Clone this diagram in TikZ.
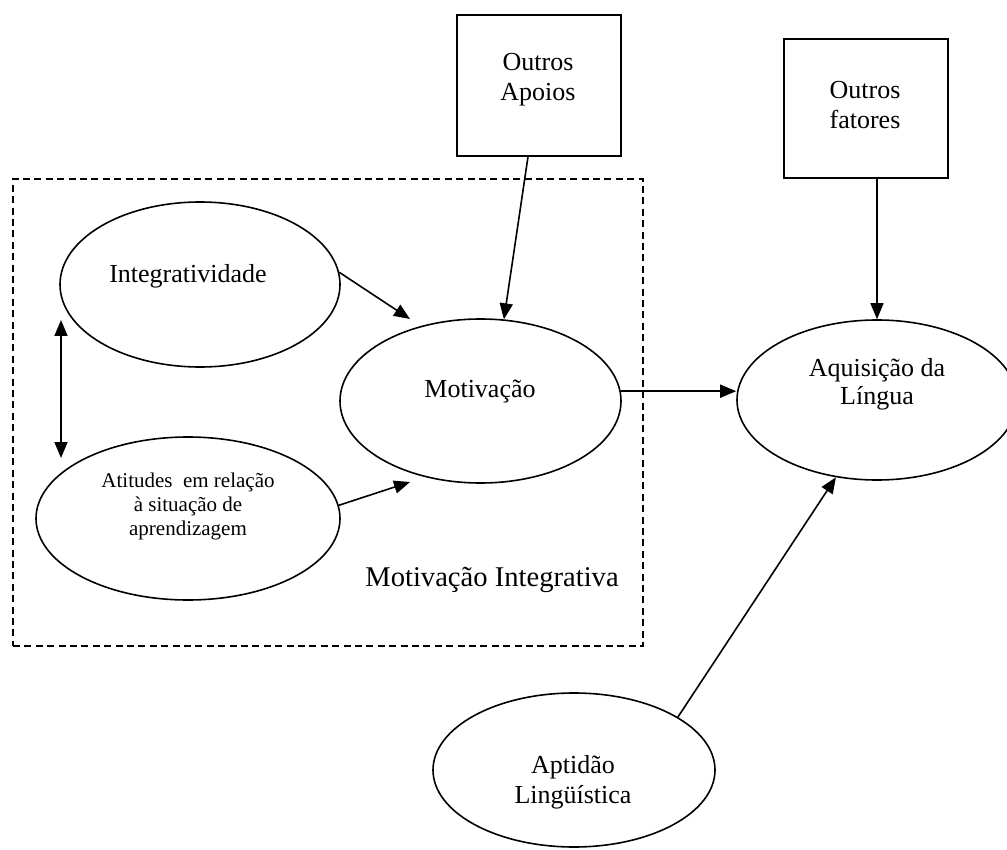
\documentclass[tikz,border=0pt]{standalone}
\usepackage{fontspec}
\setmainfont{Liberation Serif}
\usetikzlibrary{arrows.meta,shapes.geometric,positioning}

\begin{document}
\begin{tikzpicture}[x=0.5pt, y=-0.5pt,
		oval/.style={ellipse, draw, line width=0.8pt, inner sep=0pt},
		caixa/.style={rectangle, draw, line width=0.8pt, inner sep=0pt},
		grupo/.style={rectangle, draw, line width=0.8pt, dash pattern=on 3.5pt off 2.2pt, inner sep=0pt},
		txt/.style={align=center, inner sep=0pt, font=\fontsize{13}{15}\selectfont},
		>={Triangle[length=8pt,width=6.5pt]}, every path/.style={line width=0.8pt}]
		\useasboundingbox (0,0) rectangle (1007,850);

		\node (integrativa) [grupo, minimum width=315pt, minimum height=233.5pt] at (328,412.5) {};

		\node (apoios) [caixa, minimum width=82pt, minimum height=70.5pt] at (539,85.5) {};
		\node (apoiostxt) [txt] at (538,80) {Outros\\Apoios};

		\node (fatores) [caixa, minimum width=82pt, minimum height=69.5pt] at (866,108.5) {};
		\node (fatorestxt) [txt] at (865,105) {Outros\\fatores};

		\node (integ) [oval, minimum width=140pt, minimum height=82.5pt] at (200,284.5) {};
		\node (integtxt) [txt] at (188,276) {Integratividade};

		\node (atitudes) [oval, minimum width=152pt, minimum height=81.5pt] at (188,518.5) {};
		\node (atitudestxt) [txt, font=\fontsize{10.5}{12}\selectfont] at (188,506)
		{Atitudes\ \ em relação\\à situação de\\aprendizagem};

		\node (motiv) [oval, minimum width=140.5pt, minimum height=82pt] at (480.5,401) {};
		\node (motivtxt) [txt] at (480,392) {Motivação};

		\node (aquis) [oval, minimum width=140pt, minimum height=80pt] at (877,400) {};
		\node (aquistxt) [txt, font=\fontsize{13}{14}\selectfont] at (877,384) {Aquisição da\\Língua};

		\node (aptidao) [oval, minimum width=141pt, minimum height=77pt] at (574,770) {};
		\node (aptidaotxt) [txt] at (573,782) {Aptidão\\Lingüística};

		\node (integrativatxt) [txt, font=\fontsize{14.3}{16}\selectfont] at (492,580) {Motivação Integrativa};

		\coordinate (pontaA) at (410,319);
		\coordinate (pontaB) at (410,482);
		\coordinate (duplaA) at (61,320);
		\coordinate (duplaB) at (61,458);

		\draw [->] (integ.5) -- (pontaA);
		\draw [->] (atitudes.5) -- (pontaB);
		\draw [<->] (duplaA) -- (duplaB);
		\draw [->] ([xshift=-5.5pt]apoios.south) -- (motiv.74);
		\draw [->] (motiv.4) -- (motiv.4 -| aquis.west);
		\draw [->] (fatores.south -| aquis.north) -- (aquis.north);
		\draw [->] (aptidao.27) -- (aquis.242);
	\end{tikzpicture}
\end{document}
